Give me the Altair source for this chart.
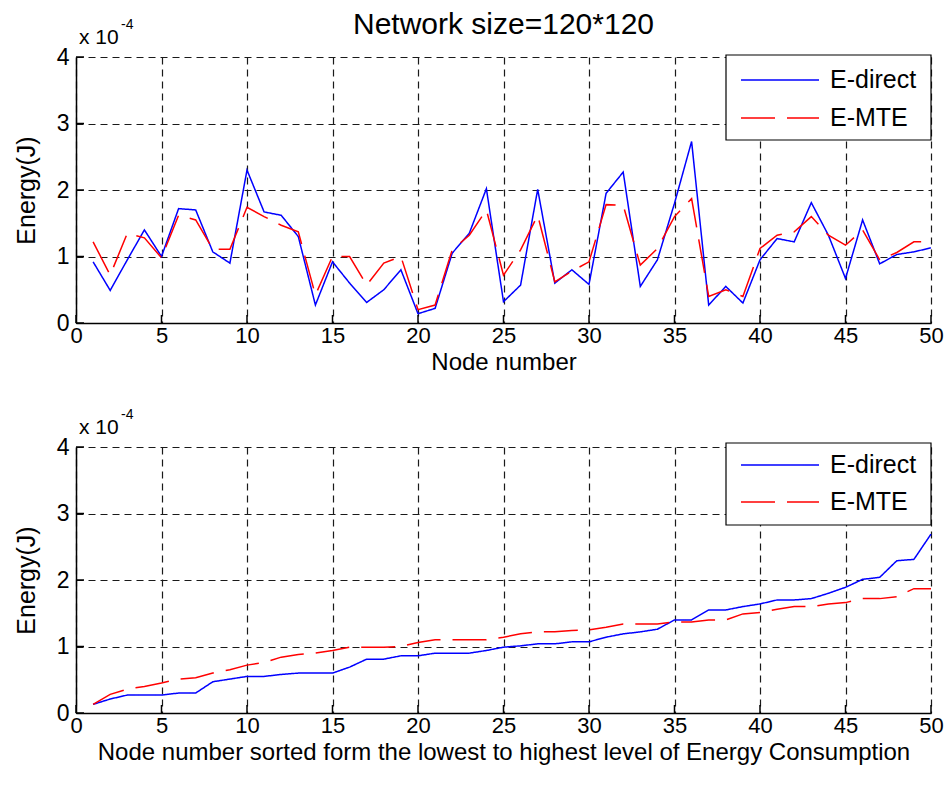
import altair as alt
import pandas as pd

# Energy per node, in units of 1e-4 J
node = list(range(1, 51))
direct_raw = [0.92, 0.49, 0.95, 1.40, 1.00, 1.72, 1.70, 1.07, 0.90, 2.30,
              1.67, 1.62, 1.30, 0.27, 0.92, 0.60, 0.31, 0.50, 0.80, 0.14,
              0.22, 1.05, 1.35, 2.02, 0.32, 0.57, 2.01, 0.60, 0.80, 0.58,
              1.95, 2.27, 0.55, 0.95, 1.80, 2.73, 0.27, 0.55, 0.30, 0.95,
              1.27, 1.22, 1.81, 1.32, 0.67, 1.55, 0.89, 1.03, 1.07, 1.13]
mte_raw = [1.22, 0.72, 1.35, 1.28, 0.98, 1.62, 1.55, 1.11, 1.11, 1.74,
           1.60, 1.47, 1.37, 0.42, 1.00, 1.00, 0.57, 0.90, 1.00, 0.20,
           0.27, 1.10, 1.32, 1.70, 0.72, 1.10, 1.62, 0.62, 0.78, 0.92,
           1.78, 1.77, 0.87, 1.12, 1.60, 1.87, 0.40, 0.50, 0.40, 1.12,
           1.32, 1.37, 1.60, 1.32, 1.17, 1.40, 0.95, 1.06, 1.22, 1.22]
direct_sorted = [0.13, 0.21, 0.27, 0.27, 0.27, 0.30, 0.30, 0.47, 0.51, 0.55,
                 0.55, 0.58, 0.60, 0.60, 0.60, 0.69, 0.81, 0.81, 0.86, 0.86,
                 0.90, 0.90, 0.90, 0.94, 0.99, 1.01, 1.04, 1.04, 1.07, 1.07,
                 1.14, 1.19, 1.22, 1.26, 1.40, 1.40, 1.55, 1.55, 1.60, 1.64,
                 1.70, 1.70, 1.72, 1.80, 1.89, 2.01, 2.04, 2.29, 2.31, 2.69]
mte_sorted = [0.13, 0.28, 0.36, 0.40, 0.45, 0.51, 0.53, 0.60, 0.65, 0.72,
              0.76, 0.84, 0.88, 0.90, 0.94, 0.99, 0.99, 0.99, 1.00, 1.06,
              1.10, 1.10, 1.10, 1.10, 1.14, 1.19, 1.22, 1.22, 1.24, 1.25,
              1.29, 1.34, 1.34, 1.34, 1.37, 1.37, 1.40, 1.40, 1.49, 1.51,
              1.56, 1.60, 1.60, 1.64, 1.66, 1.72, 1.72, 1.75, 1.87, 1.87]

series_names = ["E-direct", "E-MTE"]
series_colors = ["#0000ff", "#ff0000"]
series_dash = [[1, 0], [34, 12]]
x_ticks = list(range(0, 51, 5))
y_ticks = [0, 1, 2, 3, 4]
main_title = "Network size=120*120"

W, H = 855, 266
FONT = "Liberation Sans"
TICK_LEN = 8
GRID_DASH = [7, 5]


def long_table(a, b):
    return pd.DataFrame({
        "node": node * 2,
        "energy": a + b,
        "series": [series_names[0]] * len(a) + [series_names[1]] * len(b),
    })


def legend_box(top, first, gap, height):
    """Boxed legend in the upper-right corner of a panel."""
    one = pd.DataFrame({"k": [0]})
    box = alt.Chart(one).mark_rect(fill="white", stroke="black", strokeWidth=1.2).encode(
        x=alt.value(650), x2=alt.value(W), y=alt.value(top), y2=alt.value(top + height))
    layers = [box]
    for i, name in enumerate(series_names):
        ry = top + first + i * gap
        layers.append(alt.Chart(one).mark_rule(
            color=series_colors[i], strokeWidth=1.5, strokeDash=series_dash[i]
        ).encode(x=alt.value(665), x2=alt.value(743), y=alt.value(ry)))
        layers.append(alt.Chart(pd.DataFrame({"s": [name]})).mark_text(
            align="left", baseline="middle", font=FONT, fontSize=25, color="black"
        ).encode(x=alt.value(754), y=alt.value(ry), text="s:N"))
    return layers


def panel(df, xtitle, legend_geom):
    x_axis = alt.Axis(
        values=x_ticks, title=xtitle, grid=True, gridDash=GRID_DASH,
        gridColor="#1a1a1a", gridWidth=1.2, ticks=False, labelPadding=2,
        domainColor="black", domainWidth=1.5, titlePadding=4,
        labelFont=FONT, labelFontSize=22, labelColor="black",
        titleFont=FONT, titleFontSize=24, titleFontWeight="normal",
        titleColor="black", labelFlush=False,
    )
    y_axis = alt.Axis(
        values=y_ticks, title="Energy(J)", grid=True, gridDash=GRID_DASH,
        gridColor="#1a1a1a", gridWidth=1.2, ticks=False, labelPadding=7,
        domainColor="black", domainWidth=1.5, titlePadding=17,
        labelFont=FONT, labelFontSize=23, labelColor="black",
        titleFont=FONT, titleFontSize=25, titleFontWeight="normal",
        titleColor="black", labelFlush=False,
    )
    x_scale = alt.Scale(domain=[0, 50], nice=False, zero=False)
    y_scale = alt.Scale(domain=[0, 4], nice=False)
    lines = alt.Chart(df).mark_line(strokeWidth=1.5).encode(
        x=alt.X("node:Q", scale=x_scale, axis=x_axis),
        y=alt.Y("energy:Q", scale=y_scale, axis=y_axis),
        color=alt.Color("series:N", scale=alt.Scale(domain=series_names, range=series_colors), legend=None),
        strokeDash=alt.StrokeDash("series:N", scale=alt.Scale(domain=series_names, range=series_dash), legend=None),
        order="node:Q",
    )
    # inward tick marks on the bottom and left axes
    xt = alt.Chart(pd.DataFrame({"node": x_ticks})).mark_rule(color="black", strokeWidth=1.5).encode(
        x=alt.X("node:Q", scale=x_scale, axis=x_axis), y=alt.value(H), y2=alt.value(H - TICK_LEN))
    yt = alt.Chart(pd.DataFrame({"energy": y_ticks})).mark_rule(color="black", strokeWidth=1.5).encode(
        y=alt.Y("energy:Q", scale=y_scale, axis=y_axis), x=alt.value(0), x2=alt.value(TICK_LEN))
    # axis multiplier "x 10^-4"
    mult = alt.Chart(pd.DataFrame({"s": ["x 10"]})).mark_text(
        align="left", baseline="alphabetic", font=FONT, fontSize=21, color="black"
    ).encode(x=alt.value(3), y=alt.value(-13), text="s:N")
    expo = alt.Chart(pd.DataFrame({"s": ["-4"]})).mark_text(
        align="left", baseline="alphabetic", font=FONT, fontSize=14, color="black"
    ).encode(x=alt.value(45), y=alt.value(-28), text="s:N")
    return [lines, xt, yt, mult, expo, *legend_box(*legend_geom)]


top_layers = panel(long_table(direct_raw, mte_raw), "Node number", (-2, 25, 38, 85))
heading = alt.Chart(pd.DataFrame({"s": [main_title]})).mark_text(
    align="center", baseline="middle", font=FONT, fontSize=30, color="black"
).encode(x=alt.value(W / 2), y=alt.value(-32), text="s:N")
top = alt.layer(*top_layers, heading).properties(width=W, height=H)

bottom = alt.layer(*panel(
    long_table(direct_sorted, mte_sorted),
    "Node number sorted form the lowest to highest level of Energy Consumption",
    (-4, 22, 37, 82),
)).properties(width=W, height=H)

chart = alt.vconcat(top, bottom, spacing=124, bounds="flush").properties(
    padding={"left": 14, "top": 10, "right": 4, "bottom": 19},
    background="white",
).configure_view(stroke=None)

chart.save("out.html", embed_options={"renderer": "svg", "actions": False})
